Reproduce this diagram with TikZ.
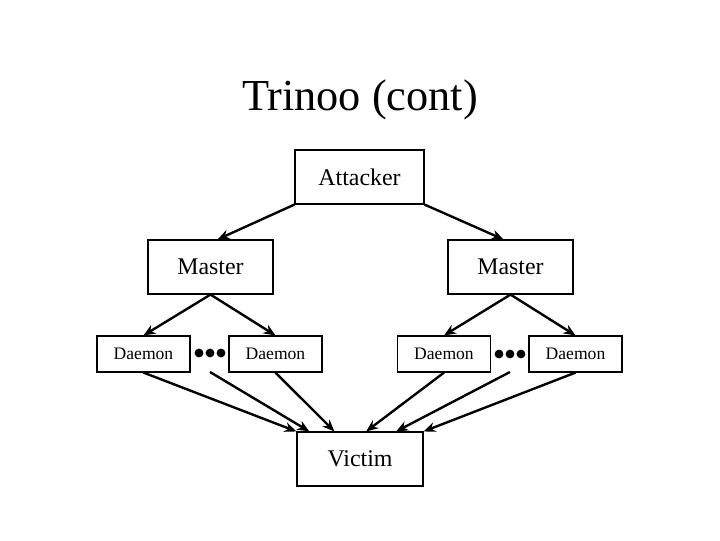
\documentclass[tikz,border=0pt]{standalone}
\usepackage{fontspec}
\setmainfont{Liberation Serif}
\usetikzlibrary{arrows.meta}
\begin{document}
\begin{tikzpicture}[x=0.025cm,y=-0.025cm,
  box/.style={rectangle,draw,line width=0.8pt,inner sep=0pt,minimum height=1.35cm,font=\fontsize{17}{20}\selectfont},
  dbox/.style={rectangle,draw,line width=0.8pt,inner sep=0pt,minimum width=2.325cm,minimum height=0.9cm,font=\fontsize{12.5}{15}\selectfont},
  link/.style={line width=1.7pt,-{Stealth[length=8.5pt,width=7pt]}}]
  \useasboundingbox (0,0) rectangle (720,540);
  \node[anchor=base,font=\fontsize{31.5}{36}\selectfont] (title) at (360,110) {Trinoo (cont)};
  \node[box,minimum width=3.225cm] (attacker) at (359.5,177) {Attacker};
  \node[box,minimum width=3.125cm] (masterL) at (210.5,267) {Master};
  \node[box,minimum width=3.125cm] (masterR) at (510.5,267) {Master};
  \node[dbox] (daemonA) at (143.5,354) {Daemon};
  \node[dbox] (daemonB) at (275.5,354) {Daemon};
  \node[dbox] (daemonC) at (444,354) {Daemon};
  \node[dbox] (daemonD) at (575.5,354) {Daemon};
  \node[box,minimum width=3.15cm] (victim) at (360,459) {Victim};
  % dots between the daemons
  \foreach \x in {199,210,221} \fill (\x,353) circle (0.11cm);
  \foreach \x in {499,510,521} \fill (\x,354) circle (0.11cm);
  \coordinate (tailL) at (210,372);
  \coordinate (tailR) at (510,372);
  \draw[link](attacker.south west)--([xshift=5pt]masterL.north);
  \draw[link](attacker.south east)--([xshift=-5pt]masterR.north);
  \draw[link](masterL.south)--(daemonA.north);
  \draw[link](masterL.south)--(daemonB.north);
  \draw[link](masterR.south)--(daemonC.north);
  \draw[link](masterR.south)--(daemonD.north);
  \draw[link](daemonA.south)--(victim.north west);
  \draw[link](tailL)--([xshift=9.2pt]victim.north west);
  \draw[link](daemonB.south)--([xshift=27pt]victim.north west);
  \draw[link](daemonC.south)--([xshift=49.6pt]victim.north west);
  \draw[link](tailR)--([xshift=70.9pt]victim.north west);
  \draw[link](daemonD.south)--(victim.north east);
\end{tikzpicture}
\end{document}
